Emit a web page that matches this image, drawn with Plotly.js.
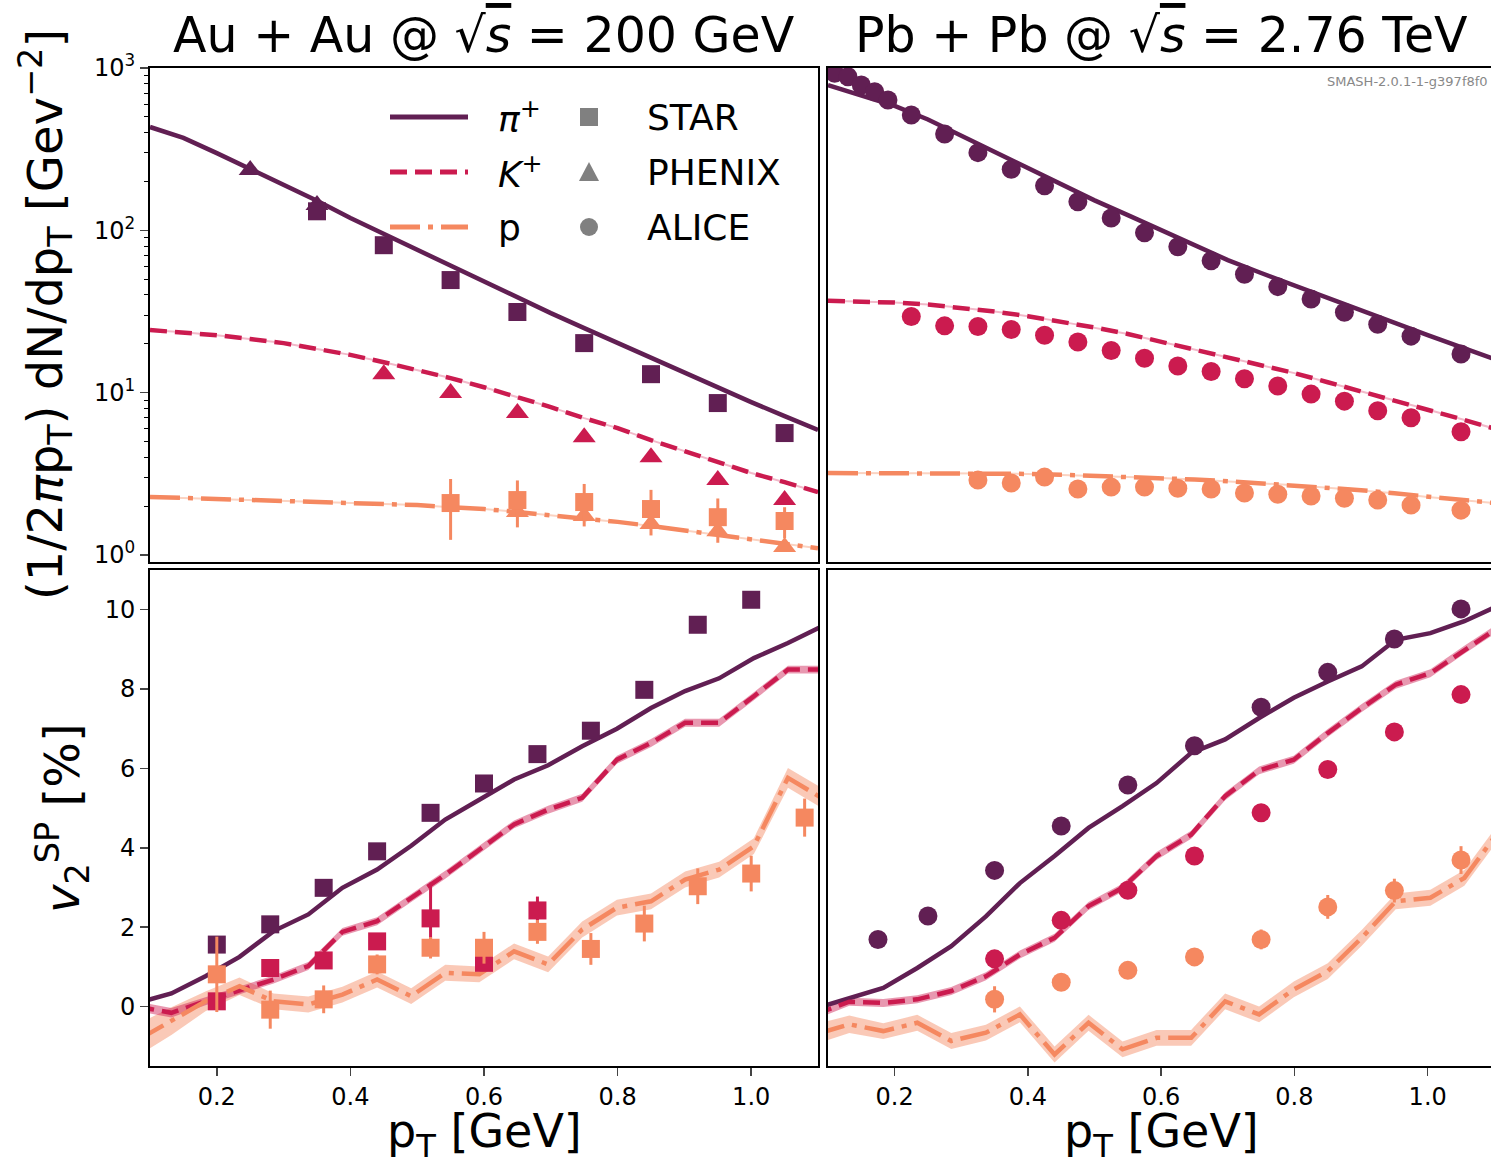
<!DOCTYPE html>
<html>
<head>
<meta charset="utf-8">
<script src="https://cdn.plot.ly/plotly-3.0.1.min.js"></script>
<style>html,body{margin:0;padding:0;background:#fff;}#chart{width:1491px;height:1168px;}</style>
</head>
<body>
<div id="chart"></div>
<script>
// ---------------- DATA ----------------
// spectra simulation grid (pT in GeV)
const ptSimSpec = [0.10,0.15,0.20,0.25,0.30,0.35,0.40,0.45,0.50,0.55,0.60,0.65,0.70,0.75,0.80,0.85,0.90,0.95,1.00,1.05,1.10];
const specPiAuSim = [433,371,299,239,190,152,119,95,75.6,60.3,48,38.8,30.9,25,20.2,16.3,13.2,10.7,8.75,7.17,5.89];
const specKAuSim  = [24.3,23.6,22.6,21.4,20.2,18.6,17.1,15.4,13.8,12.3,10.8,9.4,8.15,6.97,6.05,5.1,4.37,3.73,3.2,2.81,2.44];
const specPAuSim  = [2.28,2.25,2.21,2.18,2.15,2.12,2.09,2.06,2.03,1.97,1.92,1.84,1.76,1.69,1.60,1.51,1.42,1.33,1.25,1.17,1.10];
const specPiPbSim = [785,682,584,482,382,304,240,191,153,124,100,81.2,65.6,54.6,45.7,38.3,32.3,27.2,22.6,19.1,16.1];
const specKPbSim  = [36.8,36.5,35.9,34.9,33.4,31.6,29.6,27.4,25.2,23.0,20.6,18.4,16.5,14.8,13.2,11.6,10.2,9.0,7.87,6.88,6.01];
const specPPbSim  = [3.2,3.2,3.2,3.2,3.19,3.18,3.16,3.12,3.08,3.03,2.98,2.92,2.85,2.77,2.69,2.60,2.51,2.40,2.28,2.18,2.09];

// experimental spectra, Au+Au 200 GeV
const starSpecPiPt = [0.35,0.45,0.55,0.65,0.75,0.85,0.95,1.05];
const starSpecPi   = [131,81,49.4,31.4,20.2,13.0,8.63,5.64];
const starSpecPPt  = [0.55,0.65,0.75,0.85,0.95,1.05];
const starSpecP    = [2.09,2.18,2.12,1.92,1.71,1.62];
const starSpecPErr = [0.85,0.70,0.62,0.60,0.52,0.35];
const phenixSpecPiPt = [0.25,0.35];
const phenixSpecPi   = [235,143];
const phenixSpecKPt  = [0.45,0.55,0.65,0.75,0.85,0.95,1.05];
const phenixSpecK    = [13.0,9.96,7.5,5.32,4.0,2.9,2.18];
const phenixSpecPPt  = [0.65,0.75,0.85,0.95,1.05];
const phenixSpecP    = [1.84,1.74,1.55,1.40,1.12];

// experimental spectra, Pb+Pb 2.76 TeV (ALICE)
const aliceSpecPiPt = [0.11,0.13,0.15,0.17,0.19,0.225,0.275,0.325,0.375,0.425,0.475,0.525,0.575,0.625,0.675,0.725,0.775,0.825,0.875,0.925,0.975,1.05];
const aliceSpecPi   = [927,883,785,714,635,513,392,301,238,188,150,119,96.6,79.2,65,53.6,45,37.8,31.3,26.4,22.3,17.3];
const aliceSpecKPt  = [0.225,0.275,0.325,0.375,0.425,0.475,0.525,0.575,0.625,0.675,0.725,0.775,0.825,0.875,0.925,0.975,1.05];
const aliceSpecK    = [29.5,25.8,25.6,24.5,22.6,20.5,18.2,16.3,14.6,13.5,12.2,11.0,9.8,8.87,7.73,7.0,5.74];
const aliceSpecPPt  = [0.325,0.375,0.425,0.475,0.525,0.575,0.625,0.675,0.725,0.775,0.825,0.875,0.925,0.975,1.05];
const aliceSpecP    = [2.90,2.78,3.02,2.55,2.62,2.62,2.58,2.55,2.41,2.37,2.31,2.24,2.18,2.03,1.89];

// v2 simulation grid
const ptSimV2 = [0.081,0.132,0.183,0.234,0.285,0.337,0.388,0.440,0.491,0.542,0.593,0.645,0.696,0.747,0.799,0.850,0.901,0.952,1.004,1.055,1.106];
const v2PiAuSim = [0.09,0.33,0.76,1.25,1.90,2.32,2.99,3.45,4.05,4.71,5.21,5.72,6.08,6.56,7.00,7.52,7.95,8.27,8.78,9.16,9.58];
const v2KAuSim  = [0.00,-0.16,0.13,0.41,0.68,1.02,1.88,2.15,2.74,3.32,3.95,4.59,4.96,5.26,6.22,6.64,7.15,7.15,7.82,8.49,8.49];
const v2KAuErr  = [0.12,0.12,0.10,0.10,0.10,0.10,0.10,0.10,0.10,0.10,0.10,0.10,0.10,0.10,0.10,0.10,0.10,0.10,0.10,0.10,0.10];
const v2PAuSim  = [-0.85,-0.37,0.13,0.51,0.13,0.05,0.30,0.68,0.26,0.85,0.81,1.39,1.06,1.94,2.49,2.65,3.20,3.45,4.04,5.76,5.25];
const v2PAuErr  = [0.40,0.35,0.25,0.22,0.20,0.20,0.20,0.20,0.20,0.20,0.20,0.20,0.20,0.20,0.20,0.20,0.20,0.20,0.20,0.25,0.25];
const v2PiPbSim = [-0.05,0.20,0.47,0.97,1.52,2.27,3.11,3.79,4.50,5.05,5.63,6.39,6.73,7.27,7.78,8.19,8.57,9.24,9.41,9.71,10.10];
const v2KPbSim  = [-0.20,0.12,0.09,0.18,0.39,0.76,1.31,1.73,2.53,2.99,3.79,4.33,5.30,5.95,6.22,6.89,7.52,8.11,8.40,8.99,9.55];
const v2KPbErr  = [0.12,0.10,0.10,0.10,0.10,0.10,0.10,0.10,0.10,0.10,0.10,0.10,0.10,0.10,0.10,0.10,0.10,0.10,0.10,0.10,0.10];
const v2PPbSim  = [-0.70,-0.45,-0.62,-0.41,-0.87,-0.66,-0.20,-1.21,-0.41,-1.08,-0.79,-0.79,0.13,-0.20,0.43,0.89,1.73,2.65,2.74,3.24,4.40];
const v2PPbErr  = [0.25,0.22,0.20,0.20,0.20,0.20,0.20,0.20,0.20,0.20,0.20,0.20,0.20,0.20,0.20,0.20,0.20,0.20,0.20,0.20,0.20];

// experimental v2, STAR Au+Au
const starV2PiPt = [0.2,0.28,0.36,0.44,0.52,0.6,0.68,0.76,0.84,0.92,1.0];
const starV2Pi   = [1.56,2.07,2.99,3.91,4.88,5.62,6.36,6.95,7.98,9.62,10.25];
const starV2KPt  = [0.2,0.28,0.36,0.44,0.52,0.6,0.68];
const starV2K    = [0.13,0.97,1.16,1.64,2.22,1.10,2.42];
const starV2KErr = [0.15,0.10,0.10,0.12,0.90,0.15,0.35];
const starV2PPt  = [0.2,0.28,0.36,0.44,0.52,0.6,0.68,0.76,0.84,0.92,1.0,1.08];
const starV2P    = [0.81,-0.08,0.18,1.06,1.48,1.48,1.88,1.45,2.09,3.03,3.35,4.76];
const starV2PErr = [0.95,0.48,0.35,0.25,0.27,0.40,0.30,0.40,0.45,0.45,0.45,0.48];

// experimental v2, ALICE Pb+Pb
const aliceV2PiPt  = [0.175,0.25,0.35,0.45,0.55,0.65,0.75,0.85,0.95,1.05];
const aliceV2Pi    = [1.69,2.28,3.43,4.55,5.58,6.57,7.54,8.42,9.26,10.02];
const aliceV2PiErr = [0.05,0.05,0.05,0.06,0.08,0.10,0.12,0.15,0.18,0.20];
const aliceV2KPt   = [0.35,0.45,0.55,0.65,0.75,0.85,0.95,1.05];
const aliceV2K     = [1.20,2.17,2.93,3.79,4.88,5.97,6.92,7.86];
const aliceV2KErr  = [0.10,0.10,0.12,0.12,0.12,0.15,0.15,0.15];
const aliceV2PPt   = [0.35,0.45,0.55,0.65,0.75,0.85,0.95,1.05];
const aliceV2P     = [0.18,0.61,0.91,1.25,1.69,2.51,2.92,3.69];
const aliceV2PErr  = [0.33,0.20,0.20,0.20,0.25,0.30,0.30,0.35];

// ticks / labels
const xTickVals = [0.2,0.4,0.6,0.8,1.0];
const xTickText = ['0.2','0.4','0.6','0.8','1.0'];
const yLogTickVals = [1,10,100,1000];
const yLogTickText = ['10<sup>0</sup>','10<sup>1</sup>','10<sup>2</sup>','10<sup>3</sup>'];
const yV2TickVals = [0,2,4,6,8,10];
const yV2TickText = ['0','2','4','6','8','10'];
const titleAu = 'Au + Au @ √<span style="text-decoration:overline"><i>s</i></span> = 200 GeV';
const titlePb = 'Pb + Pb @ √<span style="text-decoration:overline"><i>s</i></span> = 2.76 TeV';
const legendLines = ['<i>π</i><sup>+</sup>','<i>K</i><sup>+</sup>','p'];
const legendExp = ['STAR','PHENIX','ALICE'];
const watermark = 'SMASH-2.0.1-1-g397f8f0';

// ---------------- STYLE ----------------
const C_PI = '#611f53', C_K = '#cb1b4f', C_P = '#f58860';
const C_K_BAND = 'rgba(203,27,79,0.45)', C_P_BAND = 'rgba(245,136,96,0.45)';
const C_K_LIGHT = '#f2b9c9', C_P_LIGHT = '#fbd3c2';
const FONT = 'DejaVu Sans, Liberation Sans, sans-serif';
const LW = 4.5;
const DASH = '17px,8px';
const DASHDOT = '30px,8px,5px,8px';
const W = 1491, H = 1168;
const X = px => px / W, Y = py => 1 - py / H;

const traces = [];
function line(x, y, color, dash, xa, ya, width) {
  traces.push({x, y, xaxis: xa, yaxis: ya, mode: 'lines', type: 'scatter', showlegend: false,
    line: {color, width: width || LW, dash: dash || 'solid'}, hoverinfo: 'skip'});
}
function band(x, y, err, color, xa, ya) {
  const lo = y.map((v, i) => v - err[i]);
  const hi = y.map((v, i) => v + err[i]);
  traces.push({x, y: lo, xaxis: xa, yaxis: ya, mode: 'lines', line: {width: 0, color}, showlegend: false, hoverinfo: 'skip'});
  traces.push({x, y: hi, xaxis: xa, yaxis: ya, mode: 'lines', line: {width: 0, color}, fill: 'tonexty', fillcolor: color, showlegend: false, hoverinfo: 'skip'});
}
function pts(x, y, color, symbol, size, xa, ya, err) {
  const t = {x, y, xaxis: xa, yaxis: ya, mode: 'markers', type: 'scatter', showlegend: false,
    marker: {color, symbol, size, line: {width: 0}}, hoverinfo: 'skip'};
  if (err) t.error_y = {type: 'data', array: err, visible: true, color, thickness: 3, width: 0};
  traces.push(t);
}

// --- top-left: spectra Au+Au
line(ptSimSpec, specKAuSim, C_K_LIGHT, 'solid', 'x', 'y', 2);
line(ptSimSpec, specPAuSim, C_P_LIGHT, 'solid', 'x', 'y', 2);
line(ptSimSpec, specPiAuSim, C_PI, 'solid', 'x', 'y');
line(ptSimSpec, specKAuSim, C_K, DASH, 'x', 'y');
line(ptSimSpec, specPAuSim, C_P, DASHDOT, 'x', 'y');
pts(phenixSpecPiPt, phenixSpecPi, C_PI, 'triangle-up', 20, 'x', 'y');
pts(phenixSpecKPt, phenixSpecK, C_K, 'triangle-up', 20, 'x', 'y');
pts(phenixSpecPPt, phenixSpecP, C_P, 'triangle-up', 20, 'x', 'y');
pts(starSpecPiPt, starSpecPi, C_PI, 'square', 18, 'x', 'y');
pts(starSpecPPt, starSpecP, C_P, 'square', 18, 'x', 'y', starSpecPErr);

// --- top-right: spectra Pb+Pb
line(ptSimSpec, specKPbSim, C_K_LIGHT, 'solid', 'x2', 'y2', 2);
line(ptSimSpec, specPPbSim, C_P_LIGHT, 'solid', 'x2', 'y2', 2);
line(ptSimSpec, specPiPbSim, C_PI, 'solid', 'x2', 'y2');
line(ptSimSpec, specKPbSim, C_K, DASH, 'x2', 'y2');
line(ptSimSpec, specPPbSim, C_P, DASHDOT, 'x2', 'y2');
pts(aliceSpecPiPt, aliceSpecPi, C_PI, 'circle', 19, 'x2', 'y2');
pts(aliceSpecKPt, aliceSpecK, C_K, 'circle', 19, 'x2', 'y2');
pts(aliceSpecPPt, aliceSpecP, C_P, 'circle', 19, 'x2', 'y2');

// --- bottom-left: v2 Au+Au
band(ptSimV2, v2PAuSim, v2PAuErr, C_P_BAND, 'x3', 'y3');
band(ptSimV2, v2KAuSim, v2KAuErr, C_K_BAND, 'x3', 'y3');
line(ptSimV2, v2PiAuSim, C_PI, 'solid', 'x3', 'y3');
line(ptSimV2, v2KAuSim, C_K, DASH, 'x3', 'y3');
line(ptSimV2, v2PAuSim, C_P, DASHDOT, 'x3', 'y3');
pts(starV2PiPt, starV2Pi, C_PI, 'square', 18, 'x3', 'y3');
pts(starV2KPt, starV2K, C_K, 'square', 18, 'x3', 'y3', starV2KErr);
pts(starV2PPt, starV2P, C_P, 'square', 18, 'x3', 'y3', starV2PErr);

// --- bottom-right: v2 Pb+Pb
band(ptSimV2, v2PPbSim, v2PPbErr, C_P_BAND, 'x4', 'y4');
band(ptSimV2, v2KPbSim, v2KPbErr, C_K_BAND, 'x4', 'y4');
line(ptSimV2, v2PiPbSim, C_PI, 'solid', 'x4', 'y4');
line(ptSimV2, v2KPbSim, C_K, DASH, 'x4', 'y4');
line(ptSimV2, v2PPbSim, C_P, DASHDOT, 'x4', 'y4');
pts(aliceV2PiPt, aliceV2Pi, C_PI, 'circle', 19, 'x4', 'y4', aliceV2PiErr);
pts(aliceV2KPt, aliceV2K, C_K, 'circle', 19, 'x4', 'y4', aliceV2KErr);
pts(aliceV2PPt, aliceV2P, C_P, 'circle', 19, 'x4', 'y4', aliceV2PErr);

// ---------------- LAYOUT ----------------
const dLeft = [X(150), X(818)], dRight = [X(828), 1];
const dTop = [Y(562), Y(68)], dBot = [Y(1066), Y(570)];
const tickFont = {family: FONT, size: 24, color: '#000'};
const baseAxis = {showline: true, linecolor: '#000', linewidth: 2, showgrid: false, zeroline: false, tickfont: tickFont, fixedrange: true};
const minorLog = [2,3,4,5,6,7,8,9,20,30,40,50,60,70,80,90,200,300,400,500,600,700,800,900];

const layout = {
  width: W, height: H,
  margin: {l: 0, r: 0, t: 0, b: 0},
  paper_bgcolor: '#fff', plot_bgcolor: '#fff',
  showlegend: false,
  font: {family: FONT, color: '#000'},
  xaxis:  Object.assign({}, baseAxis, {domain: dLeft, anchor: 'y', range: [0.1, 1.1], mirror: true, ticks: '', showticklabels: false}),
  yaxis:  Object.assign({}, baseAxis, {domain: dTop, anchor: 'x', type: 'log', range: [-0.043, 3], mirror: true,
            tickmode: 'array', tickvals: yLogTickVals, ticktext: yLogTickText, ticks: 'outside', ticklen: 8, tickwidth: 1.5,
            minor: {tickmode: 'array', tickvals: minorLog, ticks: 'outside', ticklen: 4, tickwidth: 1, tickcolor: '#000'}}),
  xaxis2: Object.assign({}, baseAxis, {domain: dRight, anchor: 'y2', range: [0.1, 1.095], mirror: true, ticks: '', showticklabels: false}),
  yaxis2: Object.assign({}, baseAxis, {domain: dTop, anchor: 'x2', type: 'log', range: [-0.043, 3], mirror: false, ticks: '', showticklabels: false}),
  xaxis3: Object.assign({}, baseAxis, {domain: dLeft, anchor: 'y3', range: [0.1, 1.1], mirror: true,
            tickmode: 'array', tickvals: xTickVals, ticktext: xTickText, ticks: 'outside', ticklen: 8, tickwidth: 1.5}),
  yaxis3: Object.assign({}, baseAxis, {domain: dBot, anchor: 'x3', range: [-1.5, 11], mirror: true,
            tickmode: 'array', tickvals: yV2TickVals, ticktext: yV2TickText, ticks: 'outside', ticklen: 8, tickwidth: 1.5}),
  xaxis4: Object.assign({}, baseAxis, {domain: dRight, anchor: 'y4', range: [0.1, 1.095], mirror: true,
            tickmode: 'array', tickvals: xTickVals, ticktext: xTickText, ticks: 'outside', ticklen: 8, tickwidth: 1.5}),
  yaxis4: Object.assign({}, baseAxis, {domain: dBot, anchor: 'x4', range: [-1.5, 11], mirror: false, ticks: '', showticklabels: false}),
  annotations: [],
  shapes: []
};

const ann = (text, px, py, size, opts) => Object.assign({text, x: X(px), y: Y(py), xref: 'paper', yref: 'paper',
  showarrow: false, font: {family: FONT, size, color: '#000'}, xanchor: 'center', yanchor: 'middle'}, opts || {});

layout.annotations.push(ann(titleAu, 484, 35, 49));
layout.annotations.push(ann(titlePb, 1161, 35, 49));
layout.annotations.push(ann('p<sub>T</sub> [GeV]', 484, 1167, 46, {yanchor: 'bottom'}));
layout.annotations.push(ann('p<sub>T</sub> [GeV]', 1161, 1167, 46, {yanchor: 'bottom'}));
layout.annotations.push(ann('(1/2<i>π</i>p<sub>T</sub>) dN/dp<sub>T</sub> [Gev<sup>−2</sup>]', 45, 315, 48, {textangle: -90}));
layout.annotations.push(ann('<i>v</i><sub>2</sub><sup>SP</sup> [%]', 62, 818, 48, {textangle: -90}));
layout.annotations.push(ann(watermark, 1490, 81, 13, {xanchor: 'right', font: {family: FONT, size: 13, color: '#888'}}));

// legend
const legY = [117, 172, 227];
const legColors = [C_PI, C_K, C_P];
const legDash = ['solid', DASH, DASHDOT];
for (let i = 0; i < 3; i++) {
  layout.shapes.push({type: 'line', xref: 'paper', yref: 'paper', x0: X(390), x1: X(468), y0: Y(legY[i]), y1: Y(legY[i]),
    line: {color: legColors[i], width: 5, dash: legDash[i]}});
  layout.annotations.push(ann(legendLines[i], 496, legY[i], 36, {xanchor: 'left'}));
  layout.annotations.push(ann(legendExp[i], 645, legY[i], 36, {xanchor: 'left'}));
}
const G = '#808080';
layout.shapes.push({type: 'rect', xref: 'paper', yref: 'paper', x0: X(580), x1: X(598), y0: Y(126), y1: Y(108), fillcolor: G, line: {width: 0}});
layout.shapes.push({type: 'path', xref: 'paper', yref: 'paper',
  path: `M ${X(589)},${Y(162)} L ${X(599)},${Y(181)} L ${X(579)},${Y(181)} Z`, fillcolor: G, line: {width: 0}});
layout.shapes.push({type: 'circle', xref: 'paper', yref: 'paper', x0: X(580), x1: X(598), y0: Y(236), y1: Y(218), fillcolor: G, line: {width: 0}});

Plotly.newPlot('chart', traces, layout, {staticPlot: true, displayModeBar: false});
</script>
</body>
</html>
